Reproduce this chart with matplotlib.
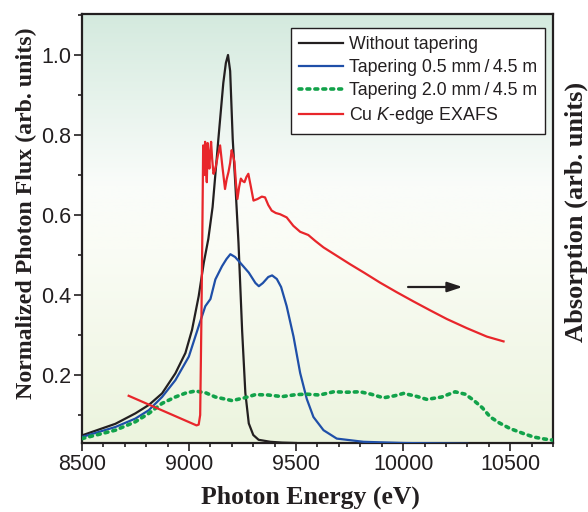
import numpy as np
import matplotlib
matplotlib.use("Agg")
import matplotlib.pyplot as plt
from matplotlib.colors import LinearSegmentedColormap
from matplotlib.ticker import MultipleLocator

# --- data ---
e_black = [8500, 8656, 8749, 8812, 8874, 8936, 8983, 9014, 9045, 9069, 9090, 9110,
           9137, 9160, 9172, 9182, 9192, 9204, 9218, 9231, 9248, 9263, 9279, 9300,
           9325, 9380, 9435, 9500]
v_black = [0.049, 0.078, 0.104, 0.125, 0.154, 0.204, 0.255, 0.313, 0.397, 0.481, 0.54, 0.62,
           0.79, 0.93, 0.98, 1.0, 0.96, 0.79, 0.66, 0.53, 0.31, 0.155, 0.079, 0.05,
           0.038, 0.033, 0.031, 0.03]

e_blue = [8500, 8656, 8749, 8812, 8874, 8936, 8999, 9045, 9076, 9100, 9123, 9154, 9175,
          9193, 9215, 9240, 9279, 9310, 9326, 9345, 9370, 9388, 9410, 9430, 9456, 9488,
          9519, 9550, 9581, 9628, 9690, 9815, 10000, 10300]
v_blue = [0.045, 0.07, 0.091, 0.112, 0.145, 0.187, 0.246, 0.322, 0.372, 0.39, 0.439, 0.472, 0.49,
          0.502, 0.495, 0.48, 0.456, 0.43, 0.422, 0.43, 0.445, 0.449, 0.44, 0.42, 0.372, 0.296,
          0.205, 0.14, 0.095, 0.062, 0.041, 0.033, 0.03, 0.028]

e_green = [8500, 8656, 8749, 8812, 8874, 8936, 8985, 9030, 9080, 9123, 9201, 9260, 9310,
           9370, 9435, 9500, 9550, 9610, 9675, 9740, 9799, 9850, 9908, 9960, 10002, 10060,
           10111, 10180, 10243, 10290, 10329, 10370, 10407, 10450, 10500, 10560, 10609,
           10660, 10703]
v_green = [0.041, 0.062, 0.083, 0.104, 0.129, 0.145, 0.155, 0.16, 0.155, 0.145, 0.136, 0.143, 0.151,
           0.15, 0.146, 0.151, 0.152, 0.15, 0.158, 0.157, 0.158, 0.152, 0.143, 0.148, 0.154, 0.147,
           0.139, 0.145, 0.158, 0.152, 0.137, 0.118, 0.095, 0.08, 0.066, 0.054, 0.045,
           0.04, 0.037]

e_red = [8718, 9035, 9045, 9052, 9058, 9062, 9066, 9071, 9075, 9079, 9083, 9087, 9091, 9095,
         9099, 9103, 9108, 9114, 9120, 9126, 9135, 9145, 9156, 9168, 9176, 9184, 9192, 9199,
         9205, 9212, 9219, 9226, 9234, 9242, 9250, 9259, 9268, 9277, 9289, 9301, 9320, 9340,
         9355, 9370, 9386, 9405, 9425, 9456, 9487, 9519, 9557, 9590, 9628, 9690, 9752, 9820,
         9892, 9970, 10048, 10125, 10204, 10298, 10391, 10469]
v_red = [0.148, 0.074, 0.076, 0.10, 0.35, 0.55, 0.774, 0.70, 0.783, 0.72, 0.682, 0.78, 0.74, 0.716,
         0.76, 0.783, 0.74, 0.703, 0.71, 0.724, 0.75, 0.774, 0.72, 0.665, 0.69, 0.707, 0.73, 0.762,
         0.75, 0.733, 0.68, 0.64, 0.67, 0.691, 0.685, 0.682, 0.695, 0.703, 0.67, 0.636, 0.64, 0.646,
         0.644, 0.625, 0.611, 0.605, 0.602, 0.594, 0.573, 0.558, 0.55, 0.535, 0.519, 0.498, 0.477, 0.455,
         0.431, 0.407, 0.384, 0.362, 0.34, 0.317, 0.296, 0.284]

labels = ["Without tapering", "Tapering 0.5 mm\u2009/\u20094.5 m", "Tapering 2.0 mm\u2009/\u20094.5 m",
          "Cu $\\mathit{K}$-edge EXAFS"]
xticks = [8500, 9000, 9500, 10000, 10500]
yticks = [0.2, 0.4, 0.6, 0.8, 1.0]
xlim = (8500, 10700)
ylim = (0.03, 1.1025)

plt.rcParams['font.family'] = ['Liberation Sans', 'DejaVu Sans']
plt.rcParams['mathtext.fontset'] = 'custom'
plt.rcParams['mathtext.it'] = 'Liberation Sans:italic'

fig = plt.figure(figsize=(5.88, 5.12), dpi=100)
ax = fig.add_axes([82 / 588, 1 - 443 / 512, 471 / 588, 429 / 512])

# background gradient (green top -> white middle -> pale yellow-green bottom)
cmap = LinearSegmentedColormap.from_list("bg", [
    (0.0, (236/255, 244/255, 222/255)),
    (0.45, (250/255, 252/255, 245/255)),
    (0.6, (250/255, 252/255, 250/255)),
    (1.0, (212/255, 234/255, 222/255))])
grad = np.linspace(0, 1, 256).reshape(-1, 1)
ax.imshow(grad, cmap=cmap, origin='lower', aspect='auto',
          extent=[xlim[0], xlim[1], ylim[0], ylim[1]], zorder=0)

ax.plot(e_black, v_black, color='#231f20', lw=1.6, label=labels[0], zorder=3)
ax.plot(e_blue, v_blue, color='#1f4fa8', lw=1.6, label=labels[1], zorder=3)
ax.plot(e_green, v_green, color='#12a24a', lw=2.6, linestyle=(0, (0.8, 1.4)),
        dash_capstyle='round', label=labels[2], zorder=3)
ax.plot(e_red, v_red, color='#e8262b', lw=1.6, label=labels[3], zorder=3)

ax.annotate("", xy=(10290, 0.42), xytext=(10010, 0.42),
            arrowprops=dict(arrowstyle='-|>,head_length=0.9,head_width=0.3',
                            color='#231f20', lw=1.6))

ax.set_xlim(*xlim)
ax.set_ylim(*ylim)
ax.set_xticks(xticks)
ax.set_yticks(yticks)
ax.xaxis.set_minor_locator(MultipleLocator(100))
ax.yaxis.set_minor_locator(MultipleLocator(0.1))
ax.tick_params(which='major', direction='out', length=6, width=1.2, labelsize=15.5,
               pad=2, color='#231f20', labelcolor='#231f20')
ax.tick_params(which='minor', direction='out', length=3, width=1.2, color='#231f20')
for s in ax.spines.values():
    s.set_linewidth(1.6)
    s.set_color('#231f20')

leg = ax.legend(loc='upper right', bbox_to_anchor=(0.984, 0.967), borderaxespad=0,
                fontsize=12.8, frameon=True, fancybox=False, handlelength=2.5,
                handletextpad=0.35, labelspacing=0.34, borderpad=0.45)
leg.get_frame().set_edgecolor('#231f20')
leg.get_frame().set_linewidth(1.0)
leg.get_frame().set_facecolor('white')
leg.get_frame().set_alpha(1)
for t in leg.get_texts():
    t.set_color('#231f20')

fig.text(26 / 588, 1 - 213 / 512, "Normalized Photon Flux (arb. units)", rotation=90,
         ha='center', va='center', family='Liberation Serif', weight='bold',
         fontsize=17.2, color='#231f20')
fig.text(576 / 588, 1 - 212 / 512, "Absorption (arb. units)", rotation=90,
         ha='center', va='center', family='Liberation Serif', weight='bold',
         fontsize=19, color='#231f20')
fig.text(310 / 588, 1 - 497 / 512, "Photon Energy (eV)", ha='center', va='center',
         family='Liberation Serif', weight='bold', fontsize=18.5, color='#231f20')

fig.savefig("out.png", dpi=100)
